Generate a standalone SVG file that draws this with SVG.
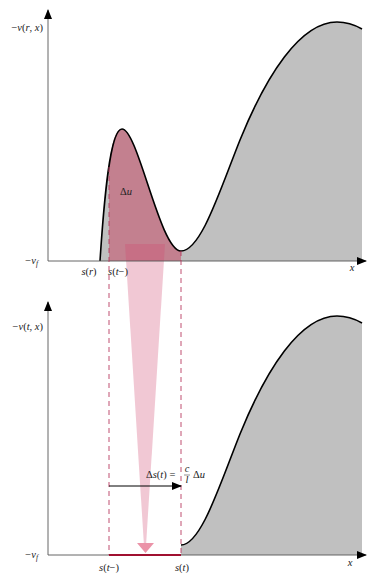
<svg xmlns="http://www.w3.org/2000/svg" width="368" height="573" viewBox="0 0 368 573">
<defs>
<marker id="ah" viewBox="0 0 10 8" refX="9" refY="4" markerWidth="10" markerHeight="8" markerUnits="userSpaceOnUse" orient="auto"><path d="M0 0 L10 4 L0 8 Z" fill="#000"/></marker>
</defs>
<style>
.ax{stroke:#555;stroke-width:0.9;fill:none}
.crv{stroke:#000;stroke-width:1.6;fill:none}
.dash{stroke:#b83a60;stroke-width:0.9;stroke-dasharray:5 4;fill:none}
text{font-family:"Liberation Serif",serif;font-size:10.5px;fill:#222}
.i{font-style:italic}
</style>
<rect width="368" height="573" fill="#fff"/>
<g id="top-panel">
<path d="M100 261 C104 200 110 129 122 129 C138 129 160 251 181 251 C201 251 220 190 240 140 C266 76 300 22 337 22 C347 22 355 25 362 29 L362 261 Z" fill="#c0c0c0"/>
<path d="M109 261 L109 167 C112 140 116 129 122 129 C138 129 160 251 181 251 L181 261 Z" fill="#c3808f"/>
<path class="crv" d="M100 261 C104 200 110 129 122 129 C138 129 160 251 181 251 C201 251 220 190 240 140 C266 76 300 22 337 22 C347 22 355 25 362 29"/>
</g>
<g id="bottom-panel">
<path d="M181 555 L181 545 C201 545 220 484 240 434 C266 370 300 316 337 316 C347 316 355 319 362 323 L362 555 Z" fill="#c0c0c0"/>
<path class="crv" d="M181 545 C201 545 220 484 240 434 C266 370 300 316 337 316 C347 316 355 319 362 323"/>
</g>
<g id="transfer">
<polygon points="125,244 165,244 146,546 144,546" fill="#d04870" fill-opacity="0.3"/>
<polygon points="137,543 154,543 145.5,553" fill="#eb93a8"/>
</g>
<g id="connectors">
<line class="ax" x1="48" y1="261" x2="48" y2="10" marker-end="url(#ah)"/>
<line class="ax" x1="48" y1="261" x2="366" y2="261" marker-end="url(#ah)"/>
<line class="ax" x1="48" y1="555" x2="48" y2="302" marker-end="url(#ah)"/>
<line class="ax" x1="48" y1="555" x2="366" y2="555" marker-end="url(#ah)"/>
<line class="dash" x1="109" y1="167" x2="109" y2="555"/>
<line class="dash" x1="181" y1="251" x2="181" y2="555"/>
<line x1="109" y1="555" x2="181" y2="555" stroke="#a01030" stroke-width="2"/>
<line x1="109" y1="486" x2="181" y2="486" stroke="#000" stroke-width="1" marker-end="url(#ah)"/>
</g>
<g id="labels">
<text x="43" y="31" text-anchor="end">−<tspan class="i">v</tspan>(<tspan class="i">r</tspan>, <tspan class="i">x</tspan>)</text>
<text x="38" y="264" text-anchor="end">−<tspan class="i">v</tspan><tspan class="i" font-size="7.5" dy="2">f</tspan></text>
<text x="89" y="275" text-anchor="middle"><tspan class="i">s</tspan>(<tspan class="i">r</tspan>)</text>
<text x="118" y="275" text-anchor="middle"><tspan class="i">s</tspan>(<tspan class="i">t</tspan>−)</text>
<text x="352" y="271" class="i" text-anchor="middle">x</text>
<text x="126" y="195" text-anchor="middle">Δ<tspan class="i">u</tspan></text>
<text x="43" y="330" text-anchor="end">−<tspan class="i">v</tspan>(<tspan class="i">t</tspan>, <tspan class="i">x</tspan>)</text>
<text x="38" y="558" text-anchor="end">−<tspan class="i">v</tspan><tspan class="i" font-size="7.5" dy="2">f</tspan></text>
<text x="109" y="571" text-anchor="middle"><tspan class="i">s</tspan>(<tspan class="i">t</tspan>−)</text>
<text x="182" y="571" text-anchor="middle"><tspan class="i">s</tspan>(<tspan class="i">t</tspan>)</text>
<text x="350" y="566" class="i" text-anchor="middle">x</text>
<text x="146" y="478">Δ<tspan class="i">s</tspan>(<tspan class="i">t</tspan>) =</text>
<text x="187" y="472" class="i" font-size="8.5" text-anchor="middle">c</text>
<line x1="184" y1="475" x2="190" y2="475" stroke="#222" stroke-width="0.5"/>
<text x="187" y="483" class="i" font-size="8.5" text-anchor="middle">l</text>
<text x="193" y="478">Δ<tspan class="i">u</tspan></text>
</g>
</svg>
